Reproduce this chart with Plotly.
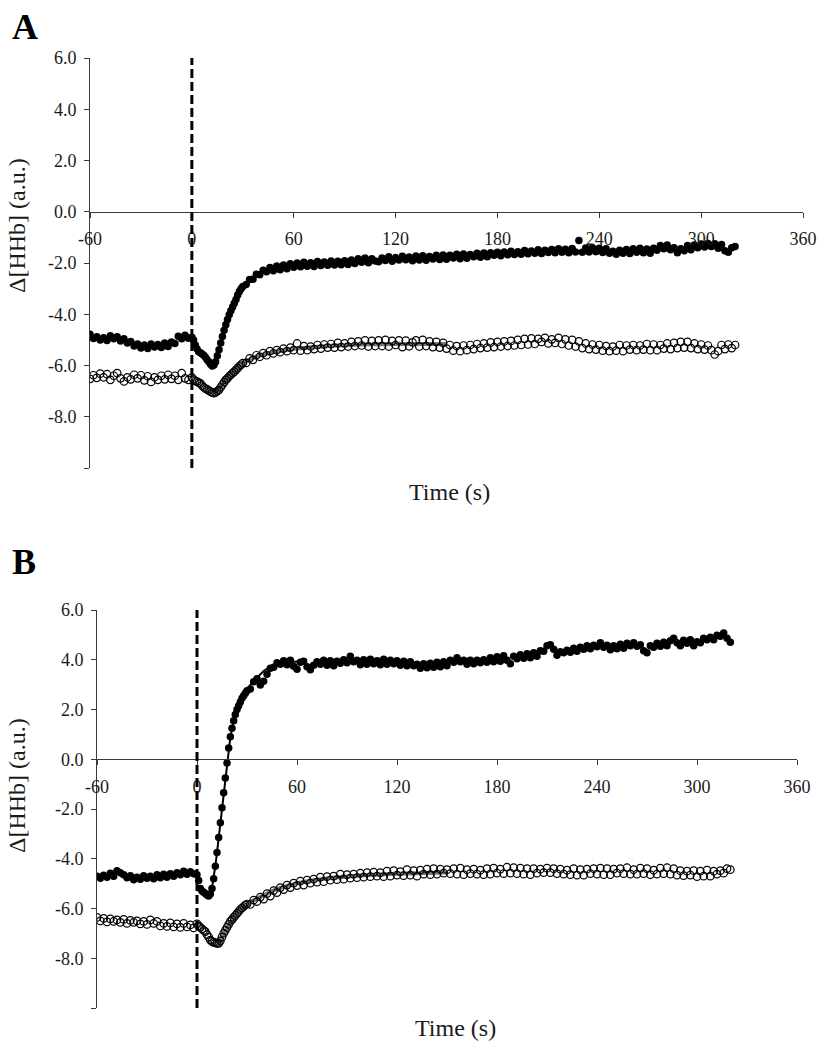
import plotly.graph_objects as go

# ---------------- data ----------------
TIME = list(range(-60, 1, 2)) + list(range(1, 31)) + list(range(32, 321, 2))

# Panel A, filled circles
A_FILLED = [
    -4.78, -4.95, -4.88, -5.00, -4.92, -5.02, -4.84, -4.96, -4.88, -5.04,
    -4.96, -5.12, -5.06, -5.24, -5.16, -5.32, -5.20, -5.34, -5.16, -5.28,
    -5.18, -5.30, -5.12, -5.26, -5.08, -5.14, -4.86, -4.96, -4.82, -4.94,
    -4.90,
    -5.00, -5.20, -5.35, -5.46, -5.50, -5.55, -5.60, -5.68, -5.78, -5.85,
    -5.95, -6.02, -5.98, -5.85, -5.62, -5.39, -5.12, -4.87, -4.62, -4.41,
    -4.20, -4.02, -3.86, -3.72, -3.57, -3.42, -3.25, -3.11, -3.00, -2.92,
    -2.84, -2.64, -2.63, -2.44, -2.46, -2.28, -2.34, -2.18, -2.30, -2.12,
    -2.26, -2.08, -2.22, -2.03, -2.17, -2.00, -2.15, -1.97, -2.13, -1.99,
    -2.14, -1.94, -2.10, -1.96, -2.09, -1.92, -2.08, -1.93, -2.07, -1.91,
    -2.06, -1.88, -2.02, -1.83, -1.97, -1.80, -1.99, -1.83, -1.92, -1.95,
    -1.80, -1.90, -1.76, -1.93, -1.79, -1.88, -1.74, -1.87, -1.77, -1.91,
    -1.73, -1.88, -1.72, -1.89, -1.75, -1.84, -1.70, -1.86, -1.69, -1.85,
    -1.70, -1.80, -1.66, -1.83, -1.65, -1.81, -1.67, -1.76, -1.62, -1.78,
    -1.61, -1.76, -1.60, -1.70, -1.58, -1.72, -1.57, -1.68, -1.54, -1.67,
    -1.56, -1.66, -1.51, -1.64, -1.53, -1.62, -1.48, -1.63, -1.50, -1.59,
    -1.47, -1.60, -1.44, -1.58, -1.46, -1.60, -1.43, -1.57, -1.12, -1.58,
    -1.41, -1.57, -1.40, -1.56, -1.42, -1.59, -1.44, -1.62, -1.54, -1.66,
    -1.50, -1.62, -1.47, -1.63, -1.44, -1.58, -1.42, -1.60, -1.45, -1.62,
    -1.42, -1.50, -1.32, -1.44, -1.30, -1.48, -1.40, -1.60, -1.44, -1.52,
    -1.32, -1.48, -1.30, -1.40, -1.26, -1.38, -1.24, -1.36, -1.25, -1.42,
    -1.28, -1.52, -1.58, -1.40, -1.36,
]

# Panel A, open circles
A_OPEN = [
    -6.52, -6.38, -6.48, -6.32, -6.46, -6.34, -6.56, -6.40, -6.30, -6.50,
    -6.62, -6.46, -6.54, -6.36, -6.50, -6.38, -6.58, -6.42, -6.64, -6.46,
    -6.56, -6.40, -6.54, -6.36, -6.52, -6.40, -6.56, -6.30, -6.50, -6.56,
    -6.46,
    -6.55, -6.60, -6.63, -6.67, -6.70, -6.78, -6.85, -6.90, -6.93, -6.98,
    -7.02, -7.06, -7.08, -7.05, -7.00, -6.95, -6.85, -6.75, -6.65, -6.56,
    -6.50, -6.42, -6.36, -6.30, -6.24, -6.17, -6.10, -6.03, -5.97, -5.91,
    -5.90, -5.72, -5.78, -5.60, -5.66, -5.52, -5.60, -5.44, -5.53, -5.40,
    -5.48, -5.34, -5.44, -5.30, -5.40, -5.14, -5.42, -5.24, -5.40, -5.26,
    -5.36, -5.20, -5.34, -5.18, -5.30, -5.16, -5.30, -5.12, -5.28, -5.14,
    -5.26, -5.08, -5.24, -5.06, -5.22, -5.02, -5.26, -5.04, -5.24, -5.02,
    -5.24, -5.00, -5.26, -5.04, -5.20, -5.02, -5.28, -5.03, -5.25, -5.10,
    -5.02, -5.26, -5.00, -5.24, -5.06, -5.28, -5.08, -5.30, -5.12, -5.34,
    -5.20, -5.42, -5.24, -5.44, -5.22, -5.40, -5.20, -5.36, -5.16, -5.32,
    -5.14, -5.30, -5.10, -5.28, -5.08, -5.26, -5.06, -5.24, -5.04, -5.22,
    -5.00, -5.20, -4.96, -5.18, -4.94, -5.16, -4.96, -5.08, -4.92, -5.14,
    -4.98, -5.12, -4.92, -5.16, -4.98, -5.22, -5.00, -5.26, -5.06, -5.32,
    -5.14, -5.36, -5.18, -5.38, -5.20, -5.42, -5.24, -5.44, -5.26, -5.42,
    -5.20, -5.44, -5.22, -5.38, -5.20, -5.40, -5.22, -5.38, -5.16, -5.40,
    -5.18, -5.40, -5.20, -5.34, -5.14, -5.36, -5.12, -5.32, -5.08, -5.30,
    -5.08, -5.32, -5.14, -5.36, -5.18, -5.38, -5.22, -5.40, -5.57, -5.44,
    -5.20, -5.36, -5.18, -5.32, -5.20,
]

# Panel B, filled circles
B_FILLED = [
    -4.70, -4.78, -4.66, -4.74, -4.58, -4.70, -4.48, -4.56, -4.64, -4.76,
    -4.68, -4.84, -4.74, -4.82, -4.68, -4.78, -4.70, -4.80, -4.64, -4.76,
    -4.62, -4.74, -4.60, -4.70, -4.56, -4.64, -4.50, -4.62, -4.52, -4.60,
    -4.64,
    -4.87, -5.20, -5.30, -5.35, -5.40, -5.46, -5.50, -5.42, -5.20, -4.80,
    -4.30, -3.75, -3.15, -2.55, -1.95, -1.35, -0.75, -0.15, 0.45, 0.90,
    1.25, 1.55, 1.80, 2.00, 2.15, 2.30, 2.45, 2.55, 2.65, 2.75,
    2.82, 3.12, 3.24, 2.98, 3.14, 3.42, 3.66, 3.70, 3.88, 3.82,
    3.96, 3.80, 3.98, 3.74, 3.62, 3.90, 3.94, 3.72, 3.60, 3.78,
    3.92, 3.82, 3.98, 3.78, 3.96, 3.76, 3.94, 3.86, 4.00, 3.88,
    4.14, 3.92, 3.98, 3.80, 4.00, 3.82, 4.02, 3.84, 3.96, 3.80,
    4.02, 3.82, 3.98, 3.84, 3.96, 3.78, 3.94, 3.76, 3.92, 3.76,
    3.82, 3.66, 3.84, 3.68, 3.86, 3.70, 3.90, 3.72, 3.92, 3.76,
    3.98, 3.90, 4.08, 3.92, 3.98, 3.82, 3.98, 3.84, 3.98, 3.88,
    4.00, 3.90, 4.08, 3.92, 4.12, 3.94, 4.16, 3.98, 3.84, 4.14,
    4.04, 4.20, 4.06, 4.24, 4.08, 4.28, 4.14, 4.36, 4.34, 4.56,
    4.60, 4.42, 4.18, 4.32, 4.28, 4.38, 4.30, 4.46, 4.34, 4.50,
    4.42, 4.56, 4.44, 4.58, 4.52, 4.68, 4.50, 4.58, 4.40, 4.56,
    4.44, 4.62, 4.46, 4.66, 4.56, 4.68, 4.54, 4.60, 4.36, 4.28,
    4.56, 4.50, 4.66, 4.54, 4.70, 4.56, 4.76, 4.86, 4.68, 4.56,
    4.78, 4.66, 4.80, 4.56, 4.72, 4.68, 4.86, 4.80, 4.90, 4.80,
    4.98, 4.94, 5.08, 4.86, 4.70,
]

# Panel B, open circles
B_OPEN = [
    -6.36, -6.50, -6.40, -6.54, -6.42, -6.52, -6.46, -6.56, -6.44, -6.60,
    -6.48, -6.56, -6.50, -6.62, -6.52, -6.64, -6.46, -6.60, -6.52, -6.70,
    -6.60, -6.72, -6.58, -6.74, -6.62, -6.76, -6.60, -6.74, -6.66, -6.78,
    -6.62,
    -6.70, -6.76, -6.82, -6.88, -6.93, -7.05, -7.15, -7.27, -7.32, -7.36,
    -7.38, -7.40, -7.40, -7.30, -7.15, -7.00, -6.88, -6.76, -6.64, -6.52,
    -6.45, -6.36, -6.28, -6.20, -6.12, -6.04, -5.98, -5.92, -5.86, -5.82,
    -5.84, -5.66, -5.72, -5.54, -5.62, -5.40, -5.50, -5.28, -5.36, -5.16,
    -5.24, -5.06, -5.16, -4.98, -5.08, -4.90, -5.06, -4.86, -4.98, -4.82,
    -4.94, -4.74, -4.92, -4.72, -4.86, -4.70, -4.84, -4.62, -4.82, -4.64,
    -4.78, -4.62, -4.76, -4.58, -4.74, -4.56, -4.72, -4.54, -4.70, -4.56,
    -4.72, -4.50, -4.70, -4.48, -4.66, -4.52, -4.68, -4.44, -4.66, -4.48,
    -4.70, -4.46, -4.62, -4.42, -4.64, -4.40, -4.62, -4.42, -4.58, -4.44,
    -4.60, -4.40, -4.62, -4.38, -4.64, -4.44, -4.60, -4.42, -4.62, -4.46,
    -4.64, -4.40, -4.62, -4.38, -4.58, -4.42, -4.60, -4.34, -4.58, -4.36,
    -4.60, -4.38, -4.62, -4.40, -4.64, -4.40, -4.58, -4.42, -4.56, -4.38,
    -4.56, -4.40, -4.60, -4.42, -4.62, -4.46, -4.64, -4.40, -4.66, -4.44,
    -4.66, -4.42, -4.60, -4.40, -4.62, -4.38, -4.64, -4.40, -4.64, -4.42,
    -4.58, -4.40, -4.60, -4.36, -4.62, -4.44, -4.62, -4.38, -4.60, -4.40,
    -4.64, -4.46, -4.62, -4.38, -4.60, -4.36, -4.62, -4.40, -4.66, -4.48,
    -4.68, -4.50, -4.66, -4.48, -4.72, -4.50, -4.70, -4.46, -4.70, -4.50,
    -4.62, -4.48, -4.58, -4.40, -4.44,
]

# model fit curves
FIT_A_FILLED_T = [12, 14, 16, 18, 20, 22, 25, 28, 32, 36, 40, 45, 50, 55, 60, 70, 80, 90, 100, 106]
FIT_A_FILLED_V = [-6.0, -5.8, -5.35, -4.87, -4.42, -4.03, -3.57, -3.13, -2.79, -2.58, -2.41, -2.28,
                  -2.20, -2.14, -2.10, -2.05, -2.02, -2.00, -2.00, -2.00]
FIT_A_OPEN_T = [13, 16, 20, 25, 30, 35, 40, 50, 60, 80, 100, 120, 150]
FIT_A_OPEN_V = [-7.06, -6.93, -6.56, -6.22, -5.93, -5.73, -5.60, -5.45, -5.35, -5.24, -5.18, -5.16, -5.16]
FIT_B_FILLED_T = [7, 8, 9, 10, 11, 12, 13, 14, 15, 16, 17, 18, 19, 20, 22, 24, 26, 28, 30, 33, 36, 40,
                  44, 48, 52, 56, 60]
FIT_B_FILLED_V = [-5.5, -5.4, -5.15, -4.8, -4.3, -3.75, -3.15, -2.55, -1.95, -1.35, -0.75, -0.15, 0.4,
                  0.88, 1.55, 2.0, 2.32, 2.58, 2.8, 3.08, 3.3, 3.55, 3.72, 3.83, 3.89, 3.92, 3.93]
FIT_B_OPEN_T = [12, 14, 16, 18, 20, 22, 25, 28, 32, 36, 40, 45, 50, 60, 70, 80, 100, 120, 150]
FIT_B_OPEN_V = [-7.40, -7.30, -7.00, -6.76, -6.52, -6.36, -6.12, -5.92, -5.74, -5.60, -5.46, -5.30,
                -5.17, -4.98, -4.86, -4.77, -4.66, -4.60, -4.55]

X_TICKS = [-60, 0, 60, 120, 180, 240, 300, 360]
Y_TICKS = [-10, -8, -6, -4, -2, 0, 2, 4, 6]
Y_TICKTEXT = ["", "-8.0", "-6.0", "-4.0", "-2.0", "0.0", "2.0", "4.0", "6.0"]
PANEL_LABELS = ["A", "B"]
X_TITLE = "Time (s)"
Y_TITLE = "Δ[HHb] (a.u.)"

# ---------------- figure ----------------
W, H = 819, 1046
FONT = "Liberation Serif, Times New Roman, serif"
TXT = "#1a1a1a"
AX = "#3a3a3a"

def px_x(p):
    return p / W

def px_y(p):
    return 1 - p / H

panels = [
    dict(xd=(90, 803), yd=(58, 468), lab=(25, 27), xt=(449, 492), yt=(17, 226)),
    dict(xd=(97, 797), yd=(610, 1008), lab=(24, 562), xt=(455, 1028), yt=(17, 786)),
]
series = [
    (A_FILLED, A_OPEN, FIT_A_FILLED_T, FIT_A_FILLED_V, FIT_A_OPEN_T, FIT_A_OPEN_V),
    (B_FILLED, B_OPEN, FIT_B_FILLED_T, FIT_B_FILLED_V, FIT_B_OPEN_T, FIT_B_OPEN_V),
]

fig = go.Figure()
layout = dict(template="none", width=W, height=H, margin=dict(l=0, r=0, t=0, b=0, pad=0),
              paper_bgcolor="white", plot_bgcolor="white", showlegend=False,
              font=dict(family=FONT, color=TXT))
annotations = []
shapes = []

for i, (p, s) in enumerate(zip(panels, series)):
    xa = "x" if i == 0 else "x2"
    ya = "y" if i == 0 else "y2"
    filled, opened, fft, ffv, fot, fov = s
    n1 = min(len(TIME), len(filled))
    n2 = min(len(TIME), len(opened))
    fig.add_trace(go.Scatter(x=fot, y=fov, mode="lines", xaxis=xa, yaxis=ya,
                             line=dict(color="#7a7a7a", width=4), hoverinfo="skip"))
    fig.add_trace(go.Scatter(x=TIME[:n2], y=opened[:n2], mode="markers", xaxis=xa, yaxis=ya,
                             marker=dict(symbol="circle-open", size=7.5, color="black",
                                         line=dict(width=1.2, color="black"))))
    fig.add_trace(go.Scatter(x=TIME[:n1], y=filled[:n1], mode="markers", xaxis=xa, yaxis=ya,
                             marker=dict(symbol="circle", size=7.5, color="black")))
    fig.add_trace(go.Scatter(x=fft, y=ffv, mode="lines", xaxis=xa, yaxis=ya,
                             line=dict(color="black", width=2), hoverinfo="skip"))

    ydom = [px_y(p["yd"][1]), px_y(p["yd"][0])]
    zero_pos = ydom[0] + (0 - (-10)) / 16 * (ydom[1] - ydom[0])
    xkey = "xaxis" if i == 0 else "xaxis2"
    ykey = "yaxis" if i == 0 else "yaxis2"
    layout[xkey] = dict(domain=[px_x(p["xd"][0]), px_x(p["xd"][1])], range=[-60, 360],
                        anchor="free", position=zero_pos, showline=True, linecolor=AX,
                        linewidth=1, ticks="outside", ticklen=5, tickcolor=AX, tickwidth=1,
                        tickvals=X_TICKS, ticktext=[str(v) for v in X_TICKS],
                        tickfont=dict(family=FONT, size=18, color=TXT),
                        ticklabelstandoff=6, automargin=False,
                        showgrid=False, zeroline=False, fixedrange=True)
    layout[ykey] = dict(domain=ydom, range=[-10, 6], anchor=xa, showline=True,
                        linecolor=AX, linewidth=1, ticks="outside", ticklen=5, tickcolor=AX,
                        tickwidth=1, tickvals=Y_TICKS, ticktext=Y_TICKTEXT,
                        tickfont=dict(family=FONT, size=18, color=TXT),
                        ticklabelstandoff=4, automargin=False,
                        showgrid=False, zeroline=False, fixedrange=True)
    shapes.append(dict(type="line", xref=xa, yref=ya, x0=0, x1=0, y0=-10, y1=6,
                       line=dict(color="black", width=3, dash="9px,4px")))
    annotations.append(dict(text="<b>" + PANEL_LABELS[i] + "</b>", xref="paper", yref="paper",
                            x=px_x(p["lab"][0]), y=px_y(p["lab"][1]), xanchor="center",
                            yanchor="middle", showarrow=False,
                            font=dict(family=FONT, size=36, color="black")))
    annotations.append(dict(text=X_TITLE, xref="paper", yref="paper",
                            x=px_x(p["xt"][0]), y=px_y(p["xt"][1]), xanchor="center",
                            yanchor="middle", showarrow=False,
                            font=dict(family=FONT, size=24, color=TXT)))
    annotations.append(dict(text=Y_TITLE, xref="paper", yref="paper", textangle=-90,
                            x=px_x(p["yt"][0]), y=px_y(p["yt"][1]), xanchor="center",
                            yanchor="middle", showarrow=False,
                            font=dict(family=FONT, size=24, color=TXT)))

layout["annotations"] = annotations
layout["shapes"] = shapes
fig.update_layout(**layout)
fig.write_html("out.html", config={"displayModeBar": False},
               post_script="document.body.style.margin='0';document.body.style.padding='0';"
                           "document.body.style.overflow='hidden';")
